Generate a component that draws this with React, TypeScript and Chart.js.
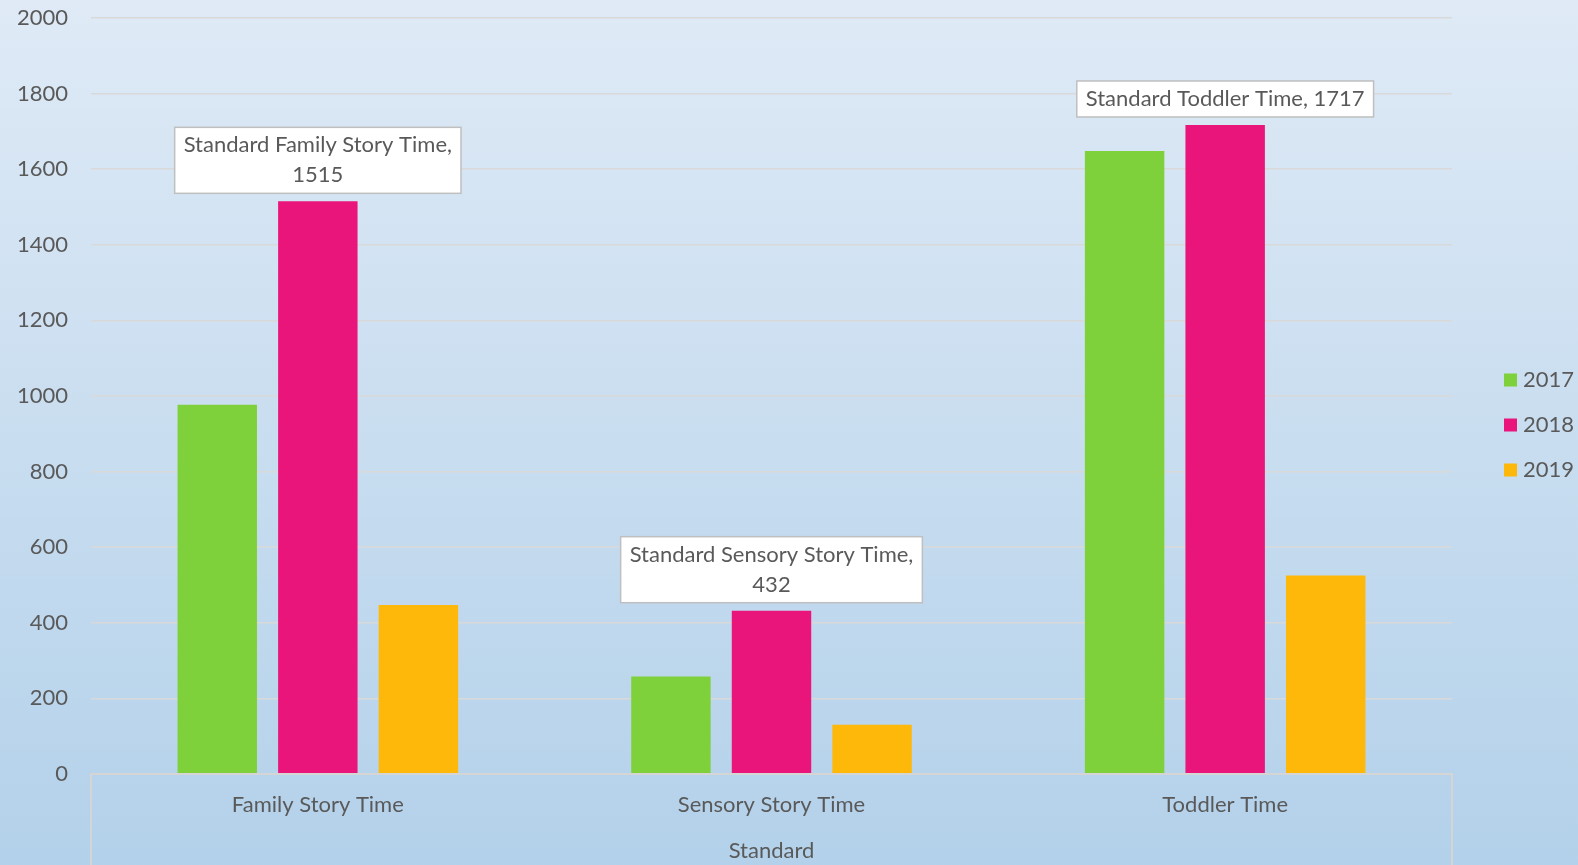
import React, { useEffect, useRef } from "react";
import { Chart, registerables } from "chart.js";

Chart.register(...registerables);

const groupLabel = "Standard";
const categories = ["Family Story Time", "Sensory Story Time", "Toddler Time"];
const seriesNames = ["2017", "2018", "2019"];
const values2017 = [977, 258, 1648];
const values2018 = [1515, 432, 1717];
const values2019 = [447, 130, 525];
const seriesColors = ["#7fd13b", "#ea157a", "#feb80a"];
const calloutSeriesIndex = 1;
const yTicks = { min: 0, max: 2000, step: 200 };

const FONT = "Lato";
const FS = 22;
const TEXT = "#595959";

const bgPlugin = {
  id: "bg",
  beforeDraw(chart: any) {
    const { ctx, width, height } = chart;
    const g = ctx.createLinearGradient(0, 0, 0, height);
    g.addColorStop(0, "#dfeaf6");
    g.addColorStop(1, "#b3d1ea");
    ctx.save();
    ctx.fillStyle = g;
    ctx.fillRect(0, 0, width, height);
    ctx.restore();
  },
};

const decorPlugin = {
  id: "decor",
  afterDraw(chart: any) {
    const { ctx, chartArea, height } = chart;
    const { left, right, bottom } = chartArea;
    ctx.save();
    // category box
    ctx.strokeStyle = "#d5d5d5";
    ctx.lineWidth = 2;
    ctx.beginPath();
    ctx.moveTo(left, height);
    ctx.lineTo(left, bottom);
    ctx.lineTo(right, bottom);
    ctx.lineTo(right, height);
    ctx.stroke();
    // group label
    ctx.fillStyle = TEXT;
    ctx.font = `${FS}px ${FONT}`;
    ctx.textAlign = "center";
    ctx.textBaseline = "middle";
    ctx.fillText(groupLabel, (left + right) / 2, 851);

    // callouts
    const meta = chart.getDatasetMeta(calloutSeriesIndex);
    const data = chart.data.datasets[calloutSeriesIndex].data;
    const lineH = 30;
    meta.data.forEach((bar: any, i: number) => {
      const full = `${groupLabel} ${categories[i]}, ${data[i]}`;
      let lines = [full];
      if (ctx.measureText(full).width > 295) {
        lines = [`${groupLabel} ${categories[i]},`, `${data[i]}`];
      }
      const w = Math.max(...lines.map((l: string) => ctx.measureText(l).width)) + 18;
      const h = lines.length * lineH + 6;
      const bx = bar.x - w / 2;
      const by = bar.y - 8 - h;
      ctx.fillStyle = "#ffffff";
      ctx.fillRect(bx, by, w, h);
      ctx.strokeStyle = "#bfbfbf";
      ctx.lineWidth = 1.5;
      ctx.strokeRect(bx, by, w, h);
      ctx.fillStyle = TEXT;
      lines.forEach((l: string, k: number) => {
        ctx.fillText(l, bar.x, by + 3 + lineH / 2 + k * lineH);
      });
    });

    // legend
    const legendYs = [380, 425, 470];
    seriesNames.forEach((n, i) => {
      ctx.fillStyle = seriesColors[i];
      ctx.fillRect(1504, legendYs[i] - 6.5, 13, 13);
      ctx.fillStyle = TEXT;
      ctx.textAlign = "left";
      ctx.fillText(n, 1523, legendYs[i]);
    });
    ctx.restore();
  },
};

export default function App() {
  const ref = useRef<HTMLCanvasElement>(null);
  useEffect(() => {
    if (!ref.current) return;
    const seriesValues = [values2017, values2018, values2019];
    const chart = new Chart(ref.current, {
      type: "bar",
      data: {
        labels: categories,
        datasets: seriesNames.map((n, i) => ({
          label: n,
          data: seriesValues[i],
          backgroundColor: seriesColors[i],
          borderWidth: 0,
          categoryPercentage: 0.665,
          barPercentage: 0.79,
        })),
      },
      options: {
        responsive: false,
        animation: false,
        layout: { padding: { top: 18, right: 126, bottom: 0, left: 0 } },
        plugins: {
          legend: { display: false },
          tooltip: { enabled: false },
        },
        scales: {
          x: {
            grid: { display: false, drawTicks: false },
            border: { display: false },
            ticks: {
              color: TEXT,
              font: { family: FONT, size: FS },
              padding: 18,
              maxRotation: 0,
            },
            afterFit(scale: any) {
              scale.height = 91;
            },
          },
          y: {
            min: yTicks.min,
            max: yTicks.max,
            grid: {
              color: "#d9d9d9",
              lineWidth: 1.5,
              drawTicks: true,
              tickLength: 23,
              tickColor: "rgba(0,0,0,0)",
            },
            border: { display: false },
            ticks: {
              stepSize: yTicks.step,
              color: TEXT,
              font: { family: FONT, size: FS },
              padding: 0,
              callback: (v: any) => String(v),
            },
            afterFit(scale: any) {
              scale.width = 91;
            },
          },
        },
      },
      plugins: [bgPlugin, decorPlugin],
    });
    return () => chart.destroy();
  }, []);
  return (
    <div style={{ position: "fixed", left: 0, top: 0, width: 1578, height: 865 }}>
      <canvas ref={ref} width={1578} height={865} style={{ display: "block" }} />
    </div>
  );
}
